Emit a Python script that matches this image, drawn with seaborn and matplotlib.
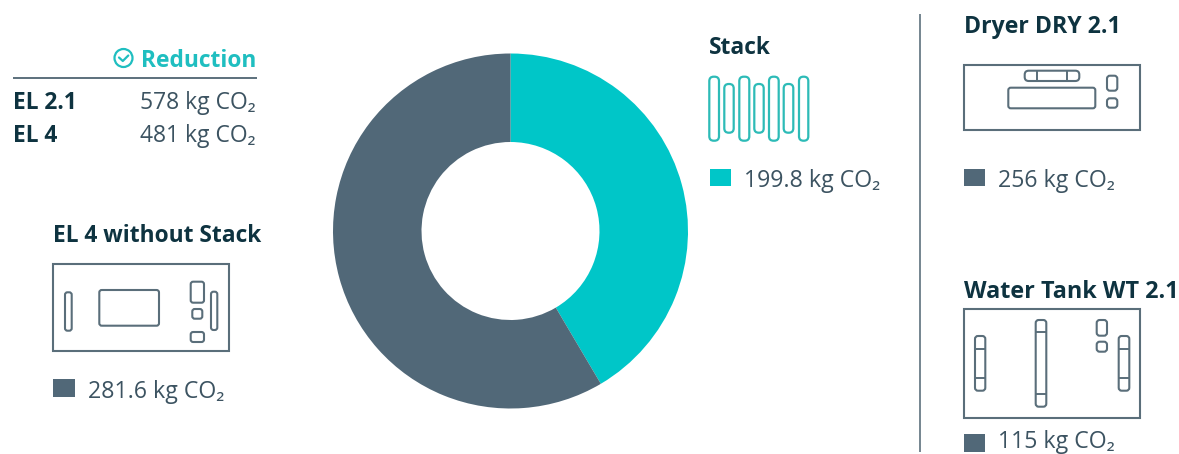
import matplotlib
matplotlib.use("Agg")
import matplotlib.pyplot as plt
from matplotlib.patches import FancyBboxPatch, Rectangle, Circle
import seaborn as sns

# Carbon footprint data
segment_names = ["Stack", "EL 4 without Stack"]
segment_values = [199.8, 281.6]
reduction_names = ["EL 2.1", "EL 4"]
reduction_values = [578, 481]
dryer_value = 256
tank_value = 115

TEAL = "#00C6C8"
SLATE = "#516878"
INK = "#0E3340"
BODY = "#3C5361"
STROKE = "#5A6E7A"
STACK_STROKE = "#2DBBB7"

sns.set_theme(style="white")
plt.rcParams["font.family"] = ["Open Sans", "DejaVu Sans"]

W, H = 1179, 454
fig = plt.figure(figsize=(W / 100, H / 100), dpi=100, facecolor="white")

# Full-figure canvas measured in pixels, y pointing down
canvas = fig.add_axes([0, 0, 1, 1])
canvas.set_xlim(0, W)
canvas.set_ylim(H, 0)
canvas.axis("off")

# Donut
cx, cy, outer, inner = 510.5, 231, 177.5, 89
donut = fig.add_axes([(cx - outer) / W, 1 - (cy + outer) / H, 2 * outer / W, 2 * outer / H])
donut.pie(segment_values, colors=[TEAL, SLATE], startangle=90, counterclock=False, radius=1,
          wedgeprops=dict(width=1 - inner / outer, linewidth=0))
donut.set_xlim(-1, 1)
donut.set_ylim(-1, 1)
donut.set_aspect("equal")


def rounded(x0, y0, x1, y1, r=2.5, color=STROKE, lw=1.5):
    canvas.add_patch(FancyBboxPatch((x0 + r, y0 + r), x1 - x0 - 2 * r, y1 - y0 - 2 * r,
                                    boxstyle=f"round,pad={r},rounding_size={r}",
                                    fc="none", ec=color, lw=lw))


def frame(x0, y0, x1, y1):
    canvas.add_patch(Rectangle((x0, y0), x1 - x0, y1 - y0, fc="none", ec=STROKE, lw=1.5))


def rule(x0, y0, x1, y1, color=STROKE, lw=1.4):
    canvas.plot([x0, x1], [y0, y1], color=color, lw=lw, solid_capstyle="butt")


def title(x, y, s, size=16.4):
    canvas.text(x, y, s, fontsize=size, fontweight="bold", color=INK, va="baseline", ha="left")


def legend_row(x, y, text, color=SLATE, lift=0):
    canvas.add_patch(Rectangle((x, y - 17.5), 21.5, 17.5, fc=color, ec="none"))
    canvas.text(x + 34.5, y + 1 - lift, text, fontsize=BODY_SIZE, color=BODY, va="baseline", ha="left")


TITLE_SIZE = 16.4
BODY_SIZE = 16.7

# Reduction table
canvas.text(256, 67, "Reduction", fontsize=TITLE_SIZE, fontweight="bold", color="#1FBEC0", ha="right", va="baseline")
canvas.add_patch(Circle((123.5, 58), 9, fc="none", ec="#1FBEC0", lw=1.6))
canvas.plot([119, 122.8, 128.3], [57.5, 61, 55.5], color="#1FBEC0", lw=1.6)
rule(12.7, 78.3, 256.5, 78.3, color="#4F6572", lw=1.3)
for name, value, base in zip(reduction_names, reduction_values, [109, 142]):
    canvas.text(13, base, name, fontsize=TITLE_SIZE, fontweight="bold", color=INK, va="baseline")
    canvas.text(255.5, base, f"{value} kg CO₂", fontsize=BODY_SIZE - 0.2, color=BODY, ha="right", va="baseline")

# EL 4 without Stack
title(53, 241.5, segment_names[1])
frame(53.3, 264.3, 229, 351)
rounded(65, 292.3, 71.7, 330.7)
rounded(99.3, 290, 159, 325.7)
rounded(190.7, 281.7, 204, 302.7)
rounded(192.3, 309, 202.3, 318.7)
rounded(190.7, 332, 204, 342)
rounded(211, 291.7, 217.3, 330)
legend_row(53, 396.5, f"{segment_values[1]} kg CO₂")

# Stack
title(709, 54, segment_names[0])
for x0, x1, y0, y1 in [(709.3, 719, 76.7, 140.7), (724.3, 733.7, 84, 132.7),
                       (739.3, 749.3, 76.7, 140.7), (754.3, 763.7, 84, 132.7),
                       (769, 778.7, 76.7, 140.7), (783.7, 793.3, 84, 132.7),
                       (799, 808.3, 76.7, 140.7)]:
    rounded(x0, y0, x1, y1, r=4.4, color=STACK_STROKE, lw=1.6)
legend_row(709.5, 186, f"{segment_values[0]} kg CO₂", color=TEAL)

# Divider
rule(919.7, 14, 919.7, 452, color="#5D717D", lw=1.2)

# Dryer
title(964, 33, "Dryer DRY 2.1", size=16.6)
frame(964, 65.3, 1139.7, 130)
rounded(1024.7, 70.7, 1079.3, 81, r=4)
rule(1037.3, 70.7, 1037.3, 81)
rule(1066.7, 70.7, 1066.7, 81)
rounded(1008.3, 87.7, 1095.3, 108.3)
rounded(1107, 75.7, 1117.3, 90.7, r=3)
rounded(1107, 98.3, 1117.3, 107.7, r=3)
legend_row(963.5, 186, f"{dryer_value} kg CO₂")

# Water tank
title(964, 297.5, "Water Tank WT 2.1", size=16.8)
frame(964, 308.7, 1139.7, 417.7)
for x0, x1, y0, y1, d0, d1 in [(975, 985.3, 336, 390.7, 349, 377.7),
                               (1035.7, 1046.3, 320, 406.7, 332, 394.3),
                               (1118.7, 1129.3, 336, 390.7, 349, 377.7)]:
    rounded(x0, y0, x1, y1, r=3)
    rule(x0, d0, x1, d0)
    rule(x0, d1, x1, d1)
rounded(1096.7, 320, 1107, 335.7, r=3)
rounded(1096.7, 341.7, 1107, 351.7, r=3)
legend_row(963.5, 451.7, f"{tank_value} kg CO₂", lift=4.7)

fig.savefig("out.png", dpi=100, facecolor="white")
